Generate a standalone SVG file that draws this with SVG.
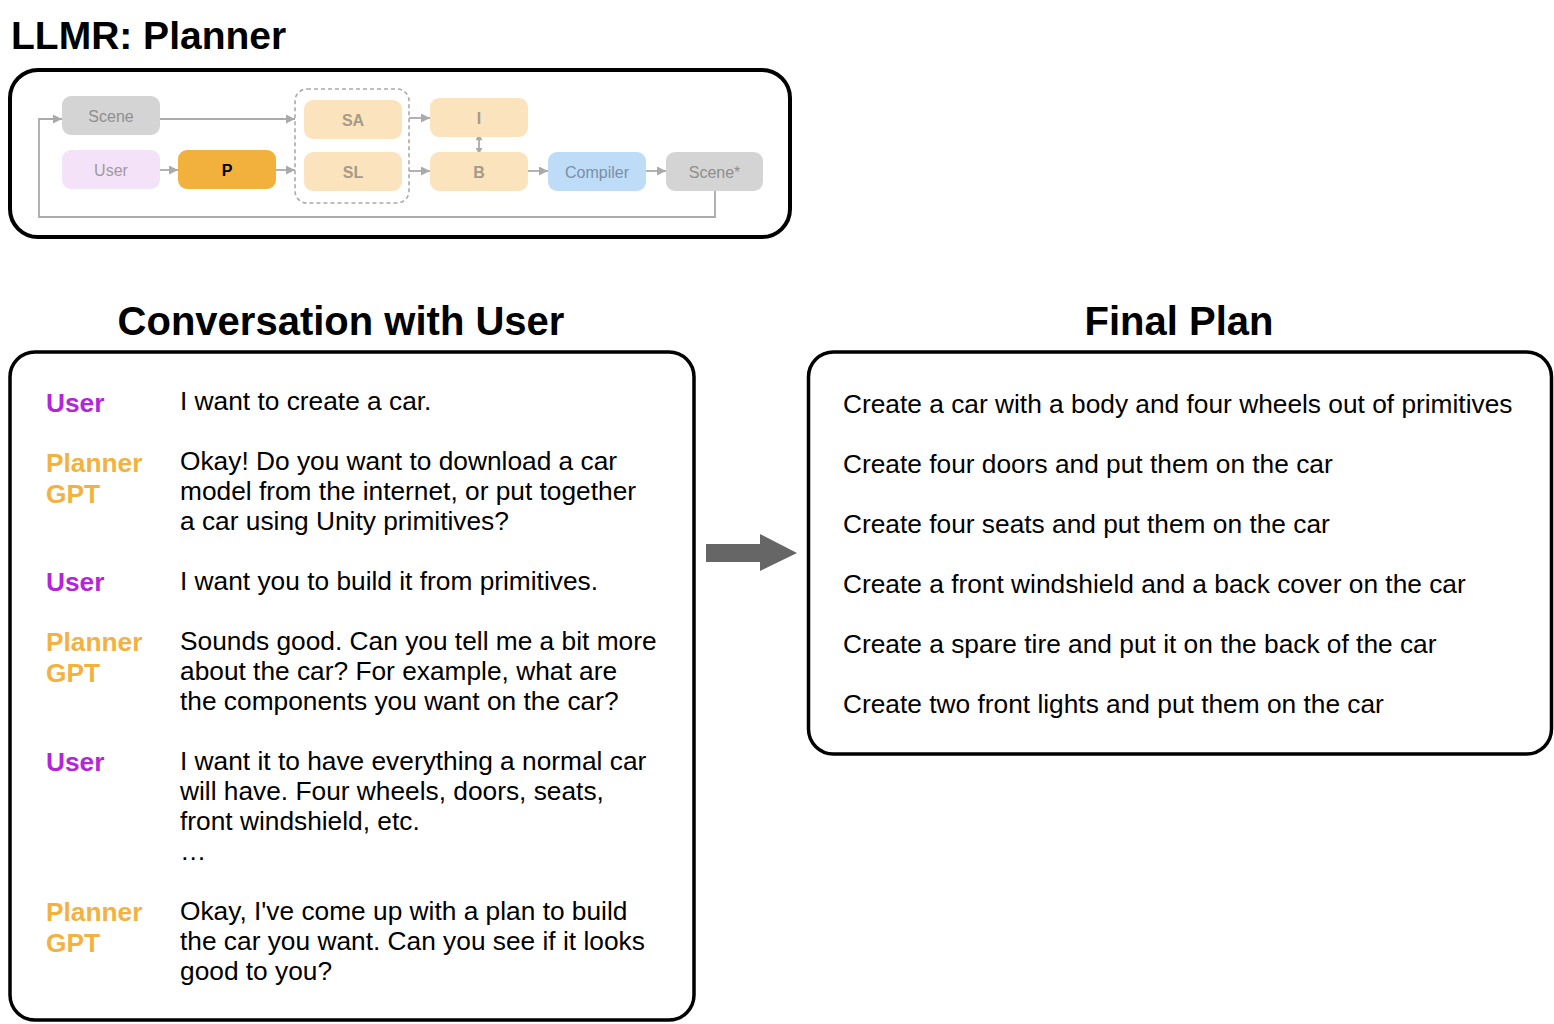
<svg xmlns="http://www.w3.org/2000/svg" width="1554" height="1024" viewBox="0 0 1554 1024">
<style>
  text { font-family: "Liberation Sans", Arial, Helvetica, sans-serif; }
  .title { font-size: 40px; font-weight: bold; fill: #000; }
  .frame { fill: none; stroke: #000; stroke-width: 3.5; }
  .node text { font-size: 16px; text-anchor: middle; }
  .bold { font-weight: bold; }
  .conn { fill: none; stroke: #aaaaaa; stroke-width: 1.8; }
  .lbl { font-size: 26.3px; font-weight: bold; }
  .user { fill: #b425d9; }
  .gpt { fill: #f3b13f; }
  .body { font-size: 26.3px; fill: #000; }
</style>
<defs>
  <marker id="ah" markerUnits="userSpaceOnUse" markerWidth="9" markerHeight="9" viewBox="0 0 10 10" refX="10" refY="5" orient="auto-start-reverse">
    <path d="M0,0 L10,5 L0,10 z" fill="#aaaaaa"/>
  </marker>
  <marker id="ahs" markerUnits="userSpaceOnUse" markerWidth="8" markerHeight="7" viewBox="0 0 7 8" refX="7" refY="4" orient="auto-start-reverse">
    <path d="M0,0 L7,4 L0,8 z" fill="#aaaaaa"/>
  </marker>
</defs>
<rect width="1554" height="1024" fill="#ffffff"/>

<text class="title" x="11" y="49" style="font-size:39px">LLMR: Planner</text>
<rect class="frame" x="10" y="70" width="780" height="167" rx="28" style="stroke-width:4"/>

<g id="connectors">
  <path class="conn" d="M715,191 V217 H39 V119 H62" marker-end="url(#ah)"/>
  <path class="conn" d="M160,119 H295" marker-end="url(#ah)"/>
  <path class="conn" d="M160,170 H178" marker-end="url(#ah)"/>
  <path class="conn" d="M276,170 H295" marker-end="url(#ah)"/>
  <path class="conn" d="M409,118 H430" marker-end="url(#ah)"/>
  <path class="conn" d="M409,171 H430" marker-end="url(#ah)"/>
  <path class="conn" d="M479,134 V154" marker-start="url(#ahs)" marker-end="url(#ahs)"/>
  <path class="conn" d="M528,171 H548" marker-end="url(#ah)"/>
  <path class="conn" d="M646,171 H666" marker-end="url(#ah)"/>
</g>

<g id="group-dashed">
  <rect x="295" y="89" width="114" height="114" rx="12" fill="none" stroke="#aaaaaa" stroke-width="1.6" stroke-dasharray="4 3"/>
</g>

<g id="node-scene" class="node">
  <rect x="62" y="96" width="98" height="39" rx="9" fill="#d4d4d4"/>
  <text x="111" y="121.5" fill="#8e8e8e">Scene</text>
</g>
<g id="node-user" class="node">
  <rect x="62" y="150" width="98" height="39" rx="9" fill="#f4e2f8"/>
  <text x="111" y="175.5" fill="#9d9aa0">User</text>
</g>
<g id="node-p" class="node">
  <rect x="178" y="150" width="98" height="39" rx="9" fill="#f2b13c"/>
  <text class="bold" x="227" y="175.5" fill="#000">P</text>
</g>
<g id="node-sa" class="node">
  <rect x="304" y="100" width="98" height="39" rx="9" fill="#fbe4bd"/>
  <text class="bold" x="353" y="125.5" fill="#a69a88">SA</text>
</g>
<g id="node-sl" class="node">
  <rect x="304" y="152" width="98" height="39" rx="9" fill="#fbe4bd"/>
  <text class="bold" x="353" y="177.5" fill="#a69a88">SL</text>
</g>
<g id="node-i" class="node">
  <rect x="430" y="98" width="98" height="39" rx="9" fill="#fbe4bd"/>
  <text class="bold" x="479" y="123.5" fill="#a69a88">I</text>
</g>
<g id="node-b" class="node">
  <rect x="430" y="152" width="98" height="39" rx="9" fill="#fbe4bd"/>
  <text class="bold" x="479" y="177.5" fill="#a69a88">B</text>
</g>
<g id="node-compiler" class="node">
  <rect x="548" y="152" width="98" height="39" rx="9" fill="#bedcf8"/>
  <text x="597" y="177.5" fill="#7a8fa5">Compiler</text>
</g>
<g id="node-scene-star" class="node">
  <rect x="666" y="152" width="97" height="39" rx="9" fill="#d4d4d4"/>
  <text x="714.5" y="177.5" fill="#8e8e8e">Scene*</text>
</g>

<text class="title" x="341" y="335" text-anchor="middle">Conversation with User</text>
<text class="title" x="1179" y="335" text-anchor="middle">Final Plan</text>

<g id="conversation">
  <rect class="frame" x="10" y="352" width="684" height="668" rx="25"/>
  <text class="lbl user" x="46" y="412">User</text>
  <text class="body" x="180" y="410">I want to create a car.</text>

  <text class="lbl gpt" x="46" y="472">Planner</text>
  <text class="lbl gpt" x="46" y="503">GPT</text>
  <text class="body" x="180" y="470">Okay! Do you want to download a car</text>
  <text class="body" x="180" y="500">model from the internet, or put together</text>
  <text class="body" x="180" y="530">a car using Unity primitives?</text>

  <text class="lbl user" x="46" y="591">User</text>
  <text class="body" x="180" y="590">I want you to build it from primitives.</text>

  <text class="lbl gpt" x="46" y="651">Planner</text>
  <text class="lbl gpt" x="46" y="682">GPT</text>
  <text class="body" x="180" y="650">Sounds good. Can you tell me a bit more</text>
  <text class="body" x="180" y="680">about the car? For example, what are</text>
  <text class="body" x="180" y="710">the components you want on the car?</text>

  <text class="lbl user" x="46" y="771">User</text>
  <text class="body" x="180" y="770">I want it to have everything a normal car</text>
  <text class="body" x="180" y="800">will have. Four wheels, doors, seats,</text>
  <text class="body" x="180" y="830">front windshield, etc.</text>
  <text class="body" x="180" y="860">…</text>

  <text class="lbl gpt" x="46" y="921">Planner</text>
  <text class="lbl gpt" x="46" y="952">GPT</text>
  <text class="body" x="180" y="920">Okay, I've come up with a plan to build</text>
  <text class="body" x="180" y="950">the car you want. Can you see if it looks</text>
  <text class="body" x="180" y="980">good to you?</text>
</g>

<g id="big-arrow">
  <polygon points="706,544 760,544 760,534 797,553 760,571 760,562 706,562" fill="#666666"/>
</g>

<g id="final-plan">
  <rect class="frame" x="808.5" y="352" width="743" height="402" rx="25"/>
  <text class="body" x="843" y="413">Create a car with a body and four wheels out of primitives</text>
  <text class="body" x="843" y="473">Create four doors and put them on the car</text>
  <text class="body" x="843" y="533">Create four seats and put them on the car</text>
  <text class="body" x="843" y="593">Create a front windshield and a back cover on the car</text>
  <text class="body" x="843" y="653">Create a spare tire and put it on the back of the car</text>
  <text class="body" x="843" y="713">Create two front lights and put them on the car</text>
</g>
</svg>
